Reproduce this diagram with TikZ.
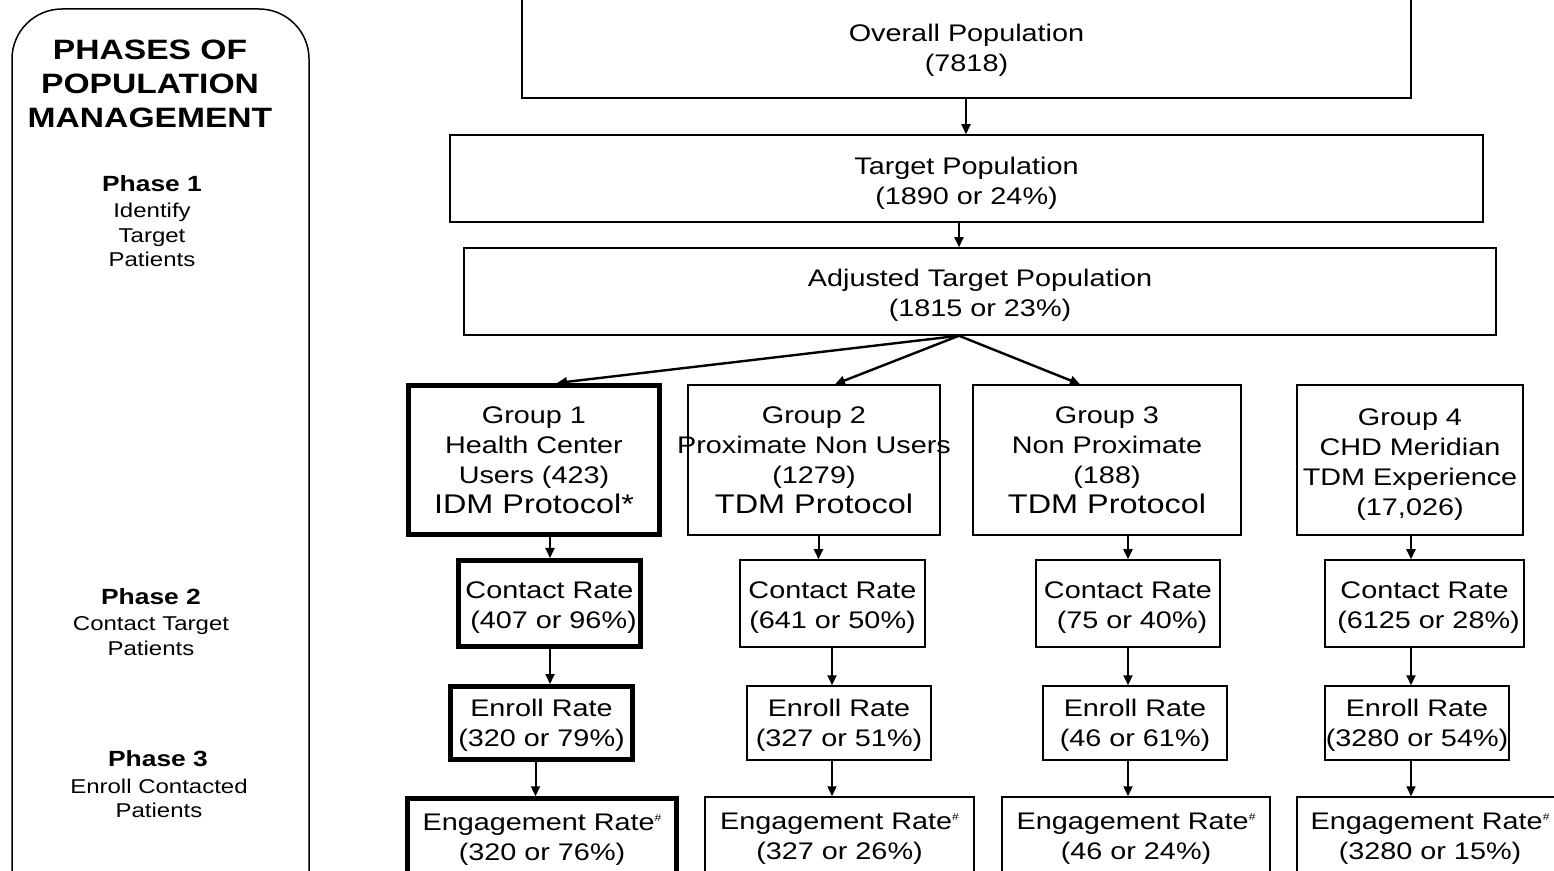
\documentclass[tikz,border=0pt]{standalone}
\usepackage{fontspec}
\setmainfont{Liberation Sans}[FakeStretch=1.2]
\usetikzlibrary{arrows.meta}
\newcommand\hashmark{{\fontsize{5}{5}\selectfont\raisebox{4.5pt}{\#}}}
\newcommand\bigline[1]{{\fontsize{13.5}{15}\selectfont #1}}
\begin{document}
\begin{tikzpicture}[x=0.5pt,y=-0.5pt,
  box/.style 2 args={draw, line width=0.75pt, minimum width=#1*0.5pt,
    minimum height=#2*0.5pt, inner sep=0pt},
  heavy/.style={line width=2.5pt},
  boxtext/.style={inner sep=0pt, align=center, font=\fontsize{12}{15}\selectfont},
  arr/.style={line width=1pt, -{Triangle[length=5pt,width=4.5pt]}},
  phasehead/.style={font=\bfseries\fontsize{11}{13}\selectfont, inner sep=0pt},
  phasetext/.style={font=\fontsize{10}{12.25}\selectfont, align=center, inner sep=0pt}
]
\useasboundingbox (0,0) rectangle (1554,871);
\clip (0,0) rectangle (1554,871);

% left-hand panel with the phases
\node[draw, line width=0.75pt, rounded corners=25pt, minimum width=297*0.5pt,
      minimum height=941*0.5pt, inner sep=0pt] (panel) at (160.5,479.5) {};
\node[font=\bfseries\fontsize{14}{17}\selectfont, align=center, inner sep=0pt]
      (title) at (150,84) {PHASES OF\\POPULATION\\MANAGEMENT};
\node[phasehead] (p1h) at (152,184) {Phase 1};
\node[phasetext] (p1t) at (152,235) {Identify\\Target\\Patients};
\node[phasehead] (p2h) at (151,597) {Phase 2};
\node[phasetext] (p2t) at (151,636) {Contact Target\\Patients};
\node[phasehead] (p3h) at (158,759) {Phase 3};
\node[phasetext] (p3t) at (159,798.5) {Enroll Contacted\\Patients};

% population funnel
\node[box={889}{100}] (overall) at (966.5,48) {};
\node[box={1033}{87}] (target) at (966.5,178.5) {};
\node[box={1032}{87}] (adjusted) at (980,291.5) {};
\node[boxtext, yshift=-1pt] (overallT) at (overall) {Overall Population\\(7818)};
\node[boxtext, yshift=-2.5pt] (targetT) at (target) {Target Population\\(1890 or 24\%)};
\node[boxtext, yshift=-2pt] (adjustedT) at (adjusted) {Adjusted Target Population\\(1815 or 23\%)};

% groups
\node[box={251}{149}, heavy] (g1) at (534,460) {};
\node[box={252}{150}] (g2) at (814,460) {};
\node[box={268}{150}] (g3) at (1107,460) {};
\node[box={226}{150}] (g4) at (1410,460) {};
\node[boxtext] (g1T) at (g1) {Group 1\\Health Center\\Users (423)\\\bigline{IDM Protocol*}};
\node[boxtext] (g2T) at (g2) {Group 2\\\makebox[0pt]{Proximate Non Users}\\(1279)\\\bigline{TDM Protocol}};
\node[boxtext] (g3T) at (g3) {Group 3\\Non Proximate\\(188)\\\bigline{TDM Protocol}};
\node[boxtext, yshift=-2.5pt] (g4T) at (g4) {Group 4\\CHD Meridian\\TDM Experience\\(17,026)};

% contact rates
\node[box={182}{86}, heavy] (c1) at (549.5,603.5) {};
\node[box={185}{87}] (c2) at (832.5,603.5) {};
\node[box={184}{87}] (c3) at (1128,603.5) {};
\node[box={199}{87}] (c4) at (1424.5,603.5) {};
\node[boxtext, yshift=-2pt] (c1T) at (c1) {Contact Rate\\\ (407 or 96\%)};
\node[boxtext, yshift=-2pt] (c2T) at (c2) {Contact Rate\\(641 or 50\%)};
\node[boxtext, yshift=-2pt] (c3T) at (c3) {Contact Rate\\\ (75 or 40\%)};
\node[boxtext, yshift=-2pt] (c4T) at (c4) {Contact Rate\\\ (6125 or 28\%)};

% enroll rates
\node[box={182}{73}, heavy] (e1) at (541.5,723) {};
\node[box={184}{74}] (e2) at (839,723) {};
\node[box={184}{74}] (e3) at (1135,723) {};
\node[box={184}{74}] (e4) at (1417,723) {};
\node[boxtext, yshift=-1pt] (e1T) at (e1) {Enroll Rate\\(320 or 79\%)};
\node[boxtext, yshift=-1pt] (e2T) at (e2) {Enroll Rate\\(327 or 51\%)};
\node[boxtext, yshift=-1pt] (e3T) at (e3) {Enroll Rate\\(46 or 61\%)};
\node[boxtext, yshift=-1pt] (e4T) at (e4) {Enroll Rate\\(3280 or 54\%)};

% engagement rates
\node[box={268.5}{78.5}, heavy] (n1) at (542,838) {};
\node[box={269}{80}] (n2) at (839.5,837) {};
\node[box={268}{80}] (n3) at (1136,837) {};
\node[box={266}{80}] (n4) at (1430,837) {};
\node[boxtext, yshift=-1pt] (n1T) at (n1) {Engagement Rate\hashmark\\(320 or 76\%)};
\node[boxtext, yshift=-1pt] (n2T) at (n2) {Engagement Rate\hashmark\\(327 or 26\%)};
\node[boxtext, yshift=-1pt] (n3T) at (n3) {Engagement Rate\hashmark\\(46 or 24\%)};
\node[boxtext, yshift=-1pt] (n4T) at (n4) {Engagement Rate\hashmark\\(3280 or 15\%)};

% arrow columns
\coordinate (a0) at (966,0);
\coordinate (a1) at (959,0);
\coordinate (k1) at (550,0);
\coordinate (m1) at (535.5,0);
\coordinate (k2) at (818.5,0);
\coordinate (m2) at (832,0);
\coordinate (k3) at (1128,0);
\coordinate (k4) at (1411,0);

\draw[arr] (overall.south -| a0) -- (target.north -| a0);
\draw[arr] (target.south -| a1) -- (adjusted.north -| a1);
\coordinate (fan) at (adjusted.south -| a1);
\draw[arr, line width=1.2pt] (fan) -- ([xshift=11.5pt]g1.north);
\draw[arr, line width=1.2pt] (fan) -- ([xshift=10.5pt]g2.north);
\draw[arr, line width=1.2pt] (fan) -- ([xshift=-13.5pt]g3.north);

\draw[arr] (g1.south -| k1) -- (c1.north -| k1);
\draw[arr] (c1.south -| k1) -- (e1.north -| k1);
\draw[arr] (e1.south -| m1) -- (n1.north -| m1);

\draw[arr] (g2.south -| k2) -- (c2.north -| k2);
\draw[arr] (c2.south -| m2) -- (e2.north -| m2);
\draw[arr] (e2.south -| m2) -- (n2.north -| m2);

\draw[arr] (g3.south -| k3) -- (c3.north -| k3);
\draw[arr] (c3.south -| k3) -- (e3.north -| k3);
\draw[arr] (e3.south -| k3) -- (n3.north -| k3);

\draw[arr] (g4.south -| k4) -- (c4.north -| k4);
\draw[arr] (c4.south -| k4) -- (e4.north -| k4);
\draw[arr] (e4.south -| k4) -- (n4.north -| k4);
\end{tikzpicture}
\end{document}
